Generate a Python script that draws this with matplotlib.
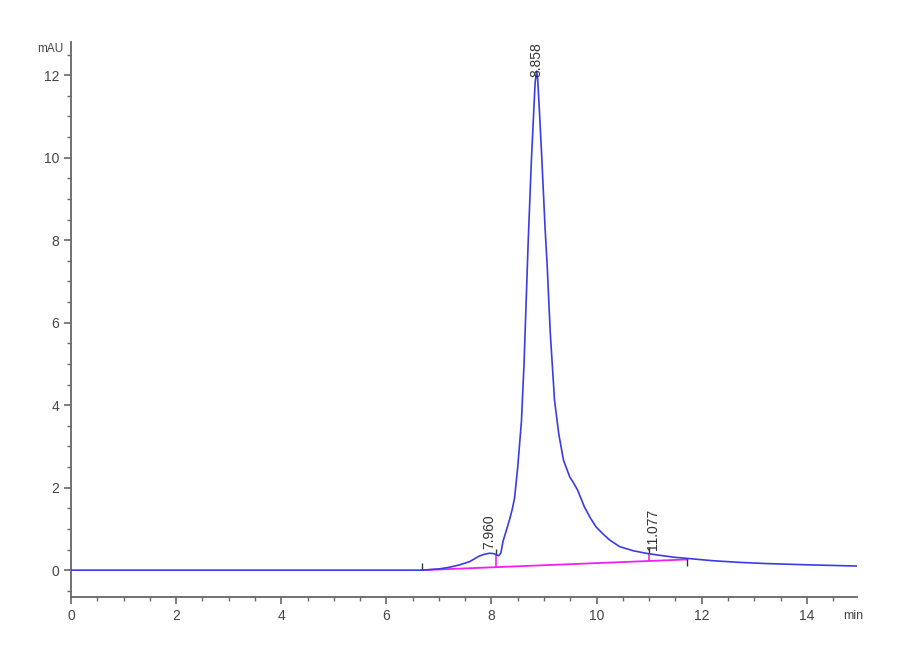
import matplotlib.pyplot as plt
import numpy as np

# chromatogram trace
t = [0.0, 1.0, 2.0, 3.0, 4.0, 5.0, 6.0, 6.67, 7.0, 7.2, 7.4, 7.59, 7.75, 7.85, 7.96,
     8.05, 8.14, 8.18, 8.22, 8.28, 8.35, 8.40, 8.44, 8.50, 8.57, 8.62, 8.66, 8.70,
     8.76, 8.80, 8.83, 8.858, 8.88, 8.91, 8.96, 9.02, 9.06, 9.09, 9.12, 9.16, 9.20,
     9.28, 9.37, 9.49, 9.56, 9.64, 9.77, 9.88, 9.99, 10.12, 10.25, 10.44, 10.7, 10.94,
     11.2, 11.5, 11.77, 12.2, 12.7, 13.23, 14.0, 14.95]
mau = [0.0, 0.0, 0.0, 0.0, 0.0, 0.0, 0.0, 0.0, 0.03, 0.07, 0.13, 0.21, 0.33, 0.38, 0.41,
       0.40, 0.35, 0.42, 0.70, 0.95, 1.25, 1.50, 1.75, 2.5, 3.6, 5.0, 6.5, 8.0,
       9.94, 11.0, 11.8, 12.1, 11.9, 11.2, 9.94, 8.3, 7.4, 6.55, 5.74, 4.93, 4.12,
       3.31, 2.67, 2.26, 2.12, 1.94, 1.53, 1.27, 1.05, 0.88, 0.73, 0.57, 0.47, 0.41,
       0.36, 0.31, 0.28, 0.23, 0.19, 0.16, 0.13, 0.10]

# integration baseline
base_t = [6.67, 11.73]
base_y = [0.0, 0.26]

# drop lines (time, bottom, top)
drop_t = [8.09, 11.0]
drop_lo = [0.07, 0.22]
drop_hi = [0.37, 0.42]

# peak labels
peak_rt = [7.960, 8.858, 11.077]
peak_lbl = ['7.960', '8.858', '11.077']
lbl_y = [0.52, 11.95, 0.5]

plt.rcParams['font.family'] = ['Liberation Sans', 'DejaVu Sans']

fig = plt.figure(figsize=(9, 6.6), dpi=100)
ax = fig.add_axes([0.0789, 0.0955, 0.873, 0.8405])

ax.plot(t, mau, color='#3b3be6', lw=1.2, zorder=3)
ax.plot(base_t, base_y, color='#f020f0', lw=1.3, zorder=2)
ax.vlines(drop_t, drop_lo, drop_hi, color='#f020f0', lw=1.2, zorder=2)

# small boundary ticks
ax.plot([base_t[0]], [base_y[0]], marker=2, ms=5, color='#333333', mew=1)
ax.plot([base_t[1]], [base_y[1]], marker=3, ms=5, color='#333333', mew=1)
ax.plot(drop_t, drop_hi, linestyle='none', marker=2, ms=4, color='#333333', mew=1)

for x, y, s in zip(peak_rt, lbl_y, peak_lbl):
    ax.text(x, y, s, rotation=90, ha='center', va='bottom', fontsize=10, color='#333333')

ax.set_xlim(0, 14.95)
ax.set_ylim(-0.65, 12.8)
ax.set_xticks(np.arange(0, 15, 2))
ax.set_xticks(np.arange(0, 15, 0.5), minor=True)
ax.set_yticks(np.arange(0, 13, 2))
ax.set_yticks(np.arange(-0.5, 12.8, 0.5), minor=True)

for s in ['top', 'right']:
    ax.spines[s].set_visible(False)
for s in ['left', 'bottom']:
    ax.spines[s].set_color('#666666')
    ax.spines[s].set_linewidth(1.3)

ax.tick_params(which='major', length=5, width=1.2, color='#666666', labelcolor='#444444',
               labelsize=10, direction='out')
ax.tick_params(which='minor', length=3, width=1, color='#666666', direction='out')

fig.text(0.056, 0.925, 'mAU', ha='center', va='center', fontsize=8.5, color='#444444')
fig.text(0.948, 0.067, 'min', ha='center', va='center', fontsize=9, color='#444444')

fig.savefig('out.png', dpi=100)
